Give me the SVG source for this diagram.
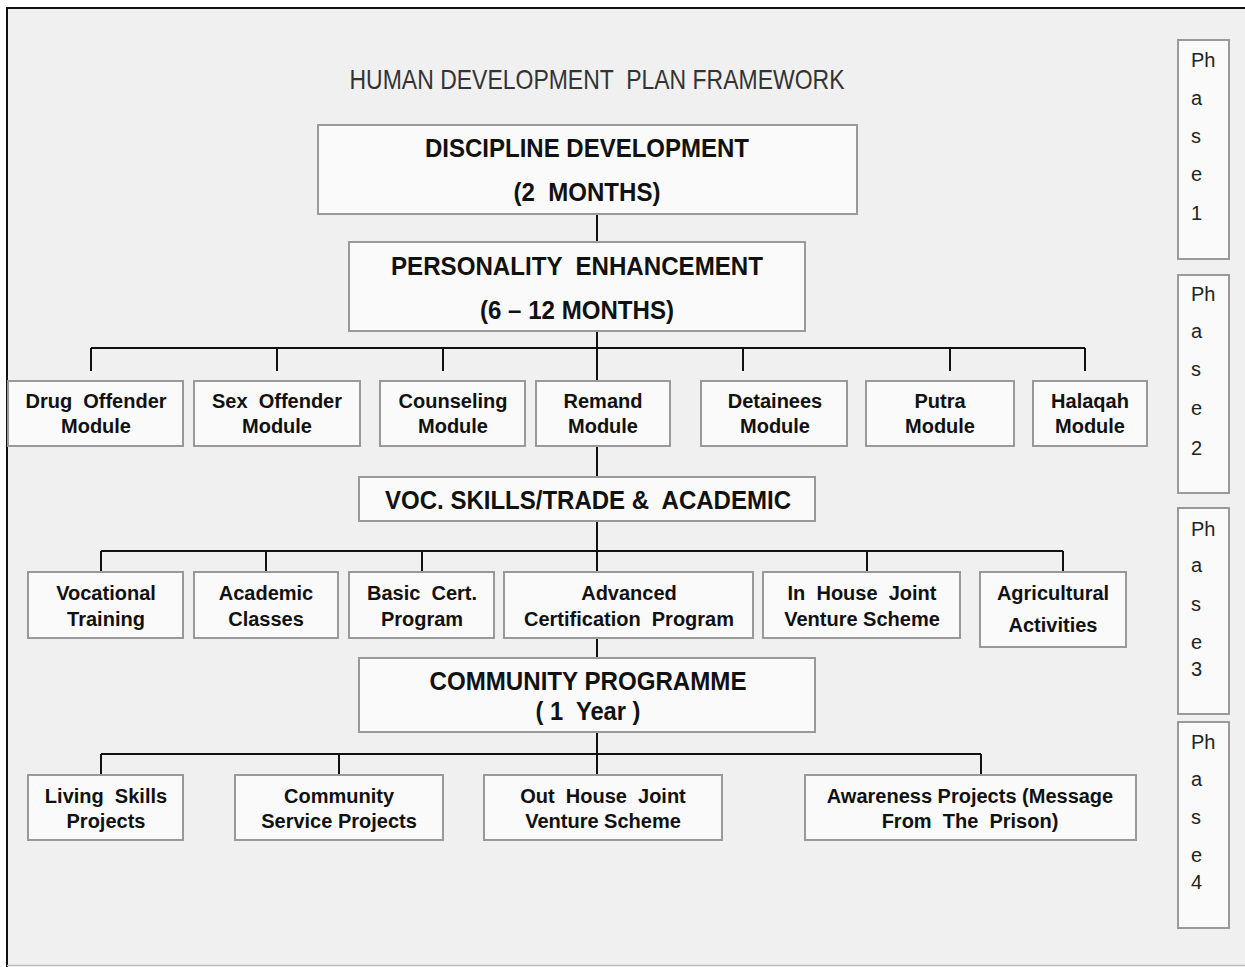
<svg xmlns="http://www.w3.org/2000/svg" width="1245" height="967" viewBox="0 0 1245 967" xml:space="preserve">
<style>
.box{fill:#fafafa;stroke:#999;stroke-width:2}
text{white-space:pre}
.t{font-family:"Liberation Sans",Arial,sans-serif;font-weight:bold;font-size:20px;fill:#111;text-anchor:middle}
.big{font-family:"Liberation Sans",Arial,sans-serif;font-weight:bold;font-size:26px;fill:#111;text-anchor:middle}
.ph{font-family:"Liberation Sans",Arial,sans-serif;font-size:20px;fill:#222}
.conn{stroke:#111;stroke-width:2;fill:none}
</style>
<rect x="0" y="0" width="1245" height="967" fill="#fff"/>
<rect x="7" y="8" width="1250" height="957" fill="#f0f0f0"/>
<line x1="7" y1="7" x2="7" y2="967" stroke="#111" stroke-width="2"/>
<line x1="6" y1="8" x2="1245" y2="8" stroke="#111" stroke-width="2"/>
<line x1="7" y1="965.5" x2="1245" y2="965.5" stroke="#bbb" stroke-width="1.5"/>
<text x="597" y="89" font-family="'Liberation Sans',Arial,sans-serif" font-size="28" fill="#333" text-anchor="middle" textLength="495" lengthAdjust="spacingAndGlyphs">HUMAN DEVELOPMENT  PLAN FRAMEWORK</text>
<g id="connectors">
<path class="conn" d="M597 214V242M597 331V348M91 348H1085M91 348V371M277 348V371M443 348V371M597 348V381M743 348V371M950 348V371M1085 348V371"/>
<path class="conn" d="M597 446V477M597 521V572M101 551H1063M101 551V572M266 551V572M422 551V572M867 551V572M1063 551V572"/>
<path class="conn" d="M597 638V658M597 732V775M101 754H981M101 754V775M339 754V775M981 754V775"/>
</g>
<g id="discipline"><rect class="box" x="318" y="125" width="539" height="89"/><text class="big" x="587" y="157" textLength="324" lengthAdjust="spacingAndGlyphs">DISCIPLINE DEVELOPMENT</text><text class="big" x="587" y="201" textLength="147" lengthAdjust="spacingAndGlyphs">(2  MONTHS)</text></g>
<g id="personality"><rect class="box" x="349" y="242" width="456" height="89"/><text class="big" x="577" y="275" textLength="372" lengthAdjust="spacingAndGlyphs">PERSONALITY  ENHANCEMENT</text><text class="big" x="577" y="319" textLength="194" lengthAdjust="spacingAndGlyphs">(6 – 12 MONTHS)</text></g>
<g id="drug"><rect class="box" x="8" y="381" width="175" height="65"/><text class="t" x="96" y="408">Drug  Offender</text><text class="t" x="96" y="433">Module</text></g>
<g id="sex"><rect class="box" x="194" y="381" width="166" height="65"/><text class="t" x="277" y="408">Sex  Offender</text><text class="t" x="277" y="433">Module</text></g>
<g id="counseling"><rect class="box" x="380" y="381" width="145" height="65"/><text class="t" x="453" y="408">Counseling</text><text class="t" x="453" y="433">Module</text></g>
<g id="remand"><rect class="box" x="536" y="381" width="134" height="65"/><text class="t" x="603" y="408">Remand</text><text class="t" x="603" y="433">Module</text></g>
<g id="detainees"><rect class="box" x="701" y="381" width="146" height="65"/><text class="t" x="775" y="408">Detainees</text><text class="t" x="775" y="433">Module</text></g>
<g id="putra"><rect class="box" x="866" y="381" width="148" height="65"/><text class="t" x="940" y="408">Putra</text><text class="t" x="940" y="433">Module</text></g>
<g id="halaqah"><rect class="box" x="1033" y="381" width="114" height="65"/><text class="t" x="1090" y="408">Halaqah</text><text class="t" x="1090" y="433">Module</text></g>
<g id="voc"><rect class="box" x="359" y="477" width="456" height="44"/><text class="big" x="588" y="509" textLength="406" lengthAdjust="spacingAndGlyphs">VOC. SKILLS/TRADE &amp;  ACADEMIC</text></g>
<g id="vocational"><rect class="box" x="28" y="572" width="155" height="66"/><text class="t" x="106" y="600">Vocational</text><text class="t" x="106" y="626">Training</text></g>
<g id="academic"><rect class="box" x="194" y="572" width="144" height="66"/><text class="t" x="266" y="600">Academic</text><text class="t" x="266" y="626">Classes</text></g>
<g id="basic"><rect class="box" x="349" y="572" width="145" height="66"/><text class="t" x="422" y="600">Basic  Cert.</text><text class="t" x="422" y="626">Program</text></g>
<g id="advanced"><rect class="box" x="504" y="572" width="249" height="66"/><text class="t" x="629" y="600">Advanced</text><text class="t" x="629" y="626">Certification  Program</text></g>
<g id="inhouse"><rect class="box" x="763" y="572" width="197" height="66"/><text class="t" x="862" y="600">In  House  Joint</text><text class="t" x="862" y="626">Venture Scheme</text></g>
<g id="agri"><rect class="box" x="980" y="572" width="146" height="75"/><text class="t" x="1053" y="600">Agricultural</text><text class="t" x="1053" y="632">Activities</text></g>
<g id="community"><rect class="box" x="359" y="658" width="456" height="74"/><text class="big" x="588" y="690" textLength="317" lengthAdjust="spacingAndGlyphs">COMMUNITY PROGRAMME</text><text class="big" x="588" y="720" textLength="105" lengthAdjust="spacingAndGlyphs">( 1  Year )</text></g>
<g id="living"><rect class="box" x="28" y="775" width="155" height="65"/><text class="t" x="106" y="803">Living  Skills</text><text class="t" x="106" y="828">Projects</text></g>
<g id="service"><rect class="box" x="235" y="775" width="208" height="65"/><text class="t" x="339" y="803">Community</text><text class="t" x="339" y="828">Service Projects</text></g>
<g id="outhouse"><rect class="box" x="484" y="775" width="238" height="65"/><text class="t" x="603" y="803">Out  House  Joint</text><text class="t" x="603" y="828">Venture Scheme</text></g>
<g id="awareness"><rect class="box" x="805" y="775" width="331" height="65"/><text class="t" x="970" y="803">Awareness Projects (Message</text><text class="t" x="970" y="828">From  The  Prison)</text></g>
<g id="phase1"><rect class="box" x="1178" y="40" width="51" height="219"/><text class="ph" x="1191" y="67">Ph</text><text class="ph" x="1191" y="105">a</text><text class="ph" x="1191" y="143">s</text><text class="ph" x="1191" y="181">e</text><text class="ph" x="1191" y="220">1</text></g>
<g id="phase2"><rect class="box" x="1178" y="275" width="51" height="218"/><text class="ph" x="1191" y="301">Ph</text><text class="ph" x="1191" y="338">a</text><text class="ph" x="1191" y="376">s</text><text class="ph" x="1191" y="415">e</text><text class="ph" x="1191" y="455">2</text></g>
<g id="phase3"><rect class="box" x="1178" y="508" width="51" height="206"/><text class="ph" x="1191" y="536">Ph</text><text class="ph" x="1191" y="572">a</text><text class="ph" x="1191" y="611">s</text><text class="ph" x="1191" y="649">e</text><text class="ph" x="1191" y="676">3</text></g>
<g id="phase4"><rect class="box" x="1178" y="722" width="51" height="206"/><text class="ph" x="1191" y="749">Ph</text><text class="ph" x="1191" y="786">a</text><text class="ph" x="1191" y="824">s</text><text class="ph" x="1191" y="862">e</text><text class="ph" x="1191" y="889">4</text></g>
</svg>
